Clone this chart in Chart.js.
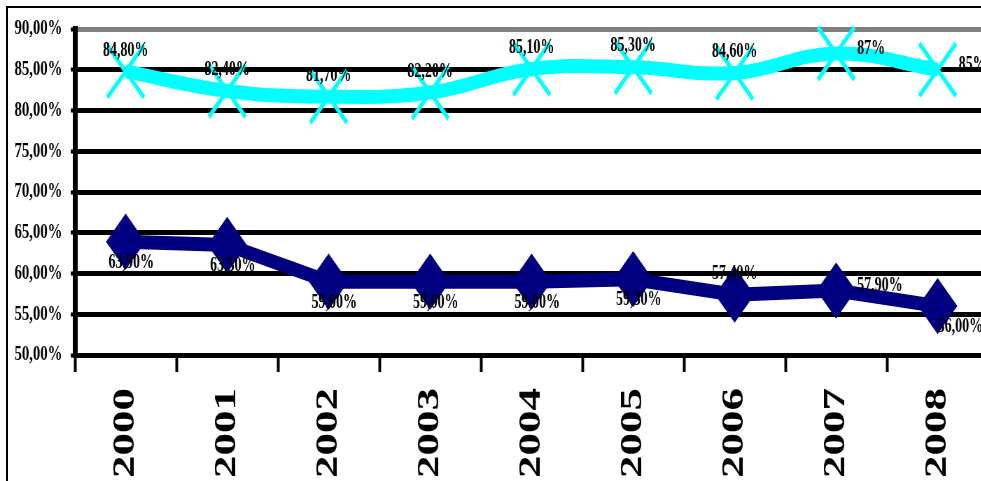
<!DOCTYPE html>
<html>
<head>
<meta charset="utf-8">
<script src="https://cdn.jsdelivr.net/npm/chart.js@4/dist/chart.umd.min.js"></script>
<style>
  html, body { margin: 0; padding: 0; background: #fff; overflow: hidden; width: 981px; height: 481px; }
  #frame { position: absolute; left: 6px; top: 6px; width: 1000px; height: 500px; border-left: 2px solid #000; border-top: 2px solid #000; }
  /* the original picture is squeezed sideways, so draw wide and squeeze */
  #wrap { position: absolute; left: 0; top: 0; width: 1412px; height: 481px; transform: scaleX(0.7); transform-origin: 0 0; }
  canvas { display: block; }
</style>
</head>
<body>
<div id="frame"></div>
<div id="wrap"><canvas id="chart" width="1412" height="481"></canvas></div>
<script>
const years = ['2000', '2001', '2002', '2003', '2004', '2005', '2006', '2007', '2008'];
const upperSeries = [84.8, 82.4, 81.7, 82.2, 85.1, 85.3, 84.6, 87, 85];
const lowerSeries = [63.9, 63.5, 59.0, 59.0, 59.0, 59.3, 57.4, 57.9, 56.0];
const yTicks = [50, 55, 60, 65, 70, 75, 80, 85, 90];

// where each value label sits relative to its point
const upperLabelPos = ['above', 'above', 'above', 'above', 'above', 'above', 'above', 'right', 'right'];
const lowerLabelPos = ['below', 'below', 'below', 'below', 'below', 'below', 'above', 'right', 'belowRight'];

const serif = '"Liberation Serif", "Times New Roman", serif';

const fmt = (v, short) => {
  if (short && Number.isInteger(v)) return v + '%';
  return v.toFixed(2).replace('.', ',') + '%';
};

const valueLabels = {
  id: 'valueLabels',
  afterDatasetsDraw(chart) {
    const ctx = chart.ctx;
    ctx.save();
    ctx.font = 'bold 20px ' + serif;
    ctx.fillStyle = '#000';
    ctx.textBaseline = 'middle';
    chart.data.datasets.forEach((ds, di) => {
      const meta = chart.getDatasetMeta(di);
      meta.data.forEach((pt, i) => {
        const text = fmt(ds.data[i], ds.shortInts);
        const pos = ds.labelPos[i];
        let x = pt.x, y = pt.y;
        if (pos === 'above') { ctx.textAlign = 'center'; y -= 21; }
        else if (pos === 'below') { ctx.textAlign = 'center'; x += 8; y += 21; }
        else if (pos === 'right') { ctx.textAlign = 'left'; x += 30; y -= 5; }
        else { ctx.textAlign = 'left'; y += 21; }
        ctx.fillText(text, x, y);
      });
    });
    ctx.restore();
  }
};

new Chart(document.getElementById('chart'), {
  type: 'line',
  data: {
    labels: years,
    datasets: [
      {
        data: lowerSeries,
        labelPos: lowerLabelPos,
        borderColor: '#000080',
        backgroundColor: '#000080',
        borderWidth: 14,
        tension: 0,
        clip: false,
        pointStyle: 'rectRot',
        pointRadius: 26,
        pointBorderWidth: 3,
        pointBackgroundColor: '#000080',
        pointBorderColor: '#000080'
      },
      {
        data: upperSeries,
        labelPos: upperLabelPos,
        shortInts: true,
        borderColor: '#00FFFF',
        backgroundColor: '#00FFFF',
        borderWidth: 14,
        tension: 0.4,
        clip: false,
        pointStyle: 'crossRot',
        pointRadius: 37,
        pointBorderWidth: 5,
        pointBorderColor: '#00FFFF'
      }
    ]
  },
  options: {
    responsive: false,
    animation: false,
    devicePixelRatio: 1,
    layout: { autoPadding: false, padding: { top: 29, left: 0, right: 0, bottom: 0 } },
    plugins: { legend: { display: false }, tooltip: { enabled: false } },
    scales: {
      x: {
        offset: true,
        afterFit: (scale) => {
          scale.height = 126;
          scale.paddingLeft = 0;
          scale.paddingRight = 0;
        },
        border: { display: true, color: '#000', width: 5 },
        grid: {
          offset: true,
          drawOnChartArea: false,
          drawTicks: true,
          tickLength: 17,
          tickWidth: 4,
          tickColor: '#000'
        },
        ticks: {
          color: '#000',
          font: { family: serif, size: 45, weight: 'bold' },
          maxRotation: 90,
          minRotation: 90,
          padding: 16
        }
      },
      y: {
        min: 50,
        max: 90,
        afterFit: (scale) => {
          scale.width = 107;
          scale.paddingTop = 0;
          scale.paddingBottom = 0;
        },
        afterBuildTicks: (scale) => { scale.ticks = yTicks.map(v => ({ value: v })); },
        border: { display: true, color: '#000', width: 7 },
        grid: {
          color: (c) => c.tick && c.tick.value === 90 ? '#808080' : '#000',
          lineWidth: 5,
          drawTicks: true,
          tickLength: 6,
          tickWidth: 4,
          tickColor: '#000'
        },
        ticks: {
          color: '#000',
          font: { family: serif, size: 21, weight: 'bold' },
          padding: 12,
          callback: (v) => v.toFixed(2).replace('.', ',') + '%'
        }
      }
    }
  },
  plugins: [valueLabels]
});
</script>
</body>
</html>
